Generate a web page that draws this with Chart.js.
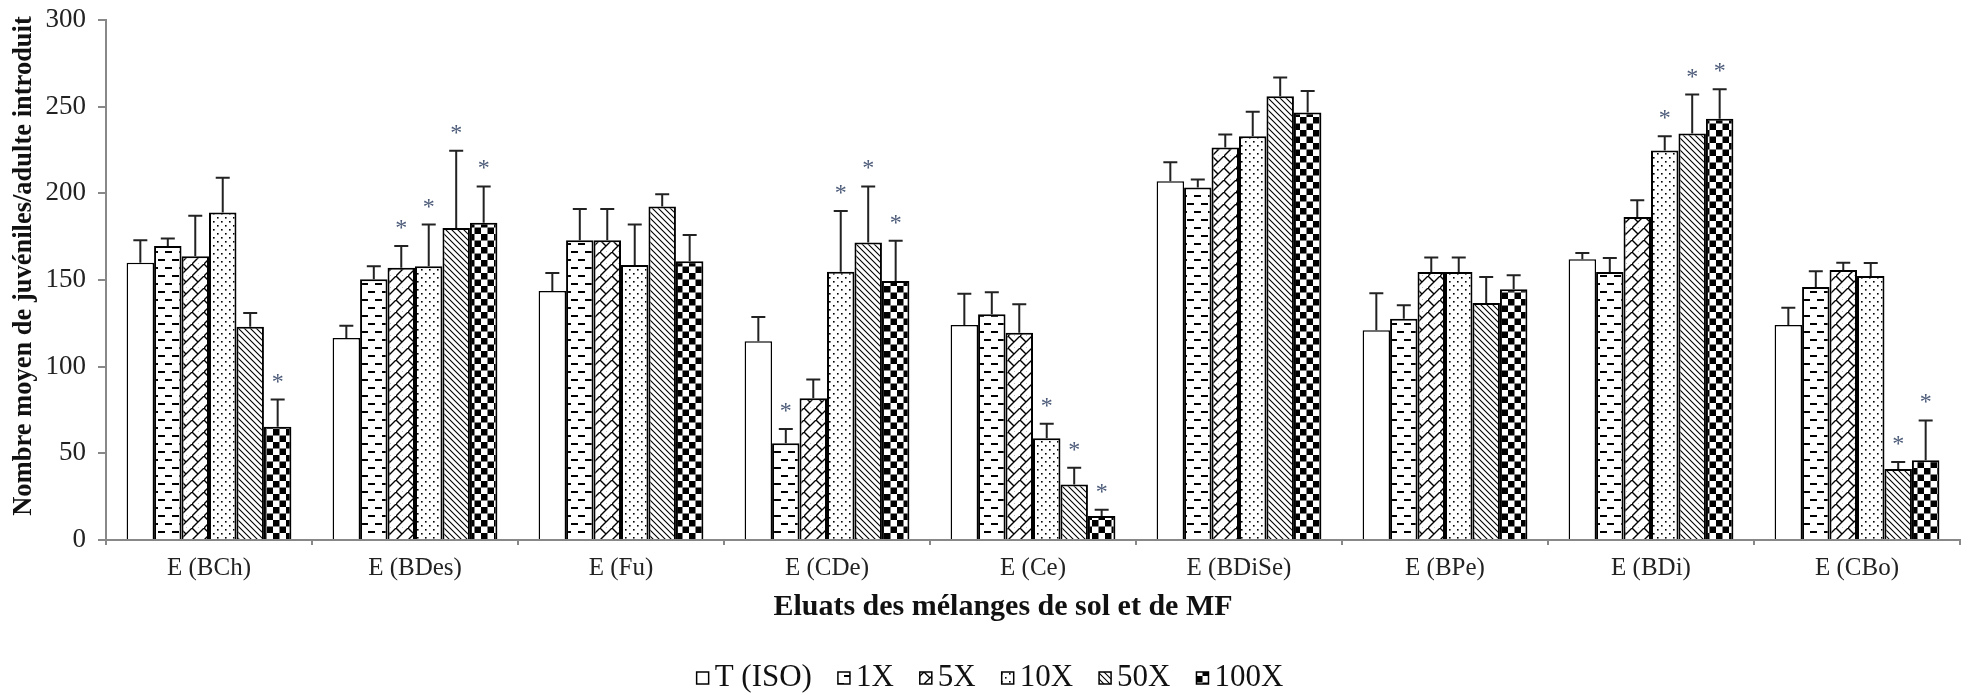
<!DOCTYPE html>
<html>
<head>
<meta charset="utf-8">
<script src="https://cdn.jsdelivr.net/npm/chart.js@4.4.1/dist/chart.umd.min.js"></script>
<style>
  html, body { margin: 0; padding: 0; background: #fff; }
  #wrap { width: 1979px; height: 693px; }
</style>
</head>
<body>
<div id="wrap"><canvas id="chart" width="1979" height="693"></canvas></div>
<script>
const categories = ['E (BCh)', 'E (BDes)', 'E (Fu)', 'E (CDe)', 'E (Ce)', 'E (BDiSe)', 'E (BPe)', 'E (BDi)', 'E (CBo)'];
const seriesLabels = ['T (ISO)', '1X', '5X', '10X', '50X', '100X'];

// mean values
const meanT    = [160, 116.6, 143.6, 114.6, 124, 207, 121, 162, 124];
const mean1X   = [169.6, 150.5, 173, 55.8, 130.3, 203.4, 127.6, 154.6, 146];
const mean5X   = [163.7, 157, 173, 81.8, 119.5, 226.4, 154.6, 186.4, 155.8];
const mean10X  = [189, 158, 158.6, 154.8, 58.7, 233, 154.6, 224.7, 152.3];
const mean50X  = [123, 180, 192.4, 171.6, 32, 256, 136.7, 234.5, 41];
const mean100X = [65.4, 183, 160.8, 149.4, 13.9, 246.7, 144.7, 243, 46];

// standard deviations (upper error bar)
const sdT    = [13, 7, 10.4, 14, 18, 11, 21.4, 3.6, 10];
const sd1X   = [4.4, 7.5, 18, 8.2, 12.7, 4.6, 7.9, 8.1, 9];
const sd5X   = [23.3, 12.6, 18, 10.8, 16.5, 7.6, 8.4, 9.6, 4.2];
const sd10X  = [20, 24, 23.4, 35, 8.3, 14, 8.4, 8.3, 7.5];
const sd50X  = [8, 44.6, 7.1, 32.4, 9.7, 10.8, 15, 22.5, 4];
const sd100X = [15.6, 21, 15.2, 23.2, 3.5, 12.3, 8.1, 17, 23];

// significant difference (*)
const starT    = [0, 0, 0, 0, 0, 0, 0, 0, 0];
const star1X   = [0, 0, 0, 1, 0, 0, 0, 0, 0];
const star5X   = [0, 1, 0, 0, 0, 0, 0, 0, 0];
const star10X  = [0, 1, 0, 1, 1, 0, 0, 1, 0];
const star50X  = [0, 1, 0, 1, 1, 0, 0, 1, 1];
const star100X = [1, 1, 0, 1, 1, 0, 0, 1, 1];

const yTicks = [0, 50, 100, 150, 200, 250, 300];

const yTitle = 'Nombre moyen de juvéniles/adulte introduit';
const xTitle = 'Eluats des mélanges de sol et de MF';

const serif = "'Liberation Serif', 'Times New Roman', serif";

function makePattern(w, h, draw) {
  const c = document.createElement('canvas');
  c.width = w; c.height = h;
  const g = c.getContext('2d');
  g.fillStyle = '#fff';
  g.fillRect(0, 0, w, h);
  g.fillStyle = '#000';
  g.strokeStyle = '#000';
  draw(g);
  return g.createPattern(c, 'repeat');
}

const ctx = document.getElementById('chart').getContext('2d');

const patterns = [
  '#ffffff',
  // dashes
  makePattern(14, 16, g => {
    g.fillRect(4, 3, 7, 2);
    g.fillRect(11, 11, 3, 2);
    g.fillRect(0, 11, 4, 2);
  }),
  // weave
  makePattern(12, 12, g => {
    g.lineWidth = 1.4;
    g.beginPath();
    g.moveTo(-1, 13); g.lineTo(13, -1);
    g.moveTo(0, 0); g.lineTo(6, 6);
    g.moveTo(6, 12); g.lineTo(7, 13);
    g.stroke();
  }),
  // dots
  makePattern(8, 8, g => {
    g.fillRect(1, 1, 1.6, 1.6);
    g.fillRect(5, 5, 1.6, 1.6);
  }),
  // dense back-diagonal
  makePattern(6, 6, g => {
    g.lineWidth = 1.1;
    g.beginPath();
    g.moveTo(-1, -1); g.lineTo(7, 7);
    g.moveTo(5, -1); g.lineTo(7, 1);
    g.moveTo(-1, 5); g.lineTo(1, 7);
    g.stroke();
  }),
  // checkerboard
  makePattern(13, 13, g => {
    g.fillRect(0, 0, 6.5, 6.5);
    g.fillRect(6.5, 6.5, 6.5, 6.5);
  })
];

const means = [meanT, mean1X, mean5X, mean10X, mean50X, mean100X];
const sds = [sdT, sd1X, sd5X, sd10X, sd50X, sd100X];
const stars = [starT, star1X, star5X, star10X, star50X, star100X];

const errorBars = {
  id: 'errorBars',
  afterDatasetsDraw(chart) {
    const c = chart.ctx;
    const y = chart.scales.y;
    c.save();
    chart.data.datasets.forEach((ds, i) => {
      const meta = chart.getDatasetMeta(i);
      meta.data.forEach((bar, j) => {
        const top = y.getPixelForValue(means[i][j] + sds[i][j]);
        c.strokeStyle = '#222';
        c.lineWidth = 2;
        c.beginPath();
        c.moveTo(bar.x, bar.y);
        c.lineTo(bar.x, top);
        c.moveTo(bar.x - 7, top);
        c.lineTo(bar.x + 7, top);
        c.stroke();
        if (stars[i][j]) {
          c.fillStyle = '#4b5a78';
          c.font = '24px ' + serif;
          c.textAlign = 'center';
          c.textBaseline = 'alphabetic';
          c.fillText('*', bar.x, top - 11);
        }
      });
    });
    c.restore();
  }
};

// axis titles and legend placed by hand (the original is not centred on the plot)
const annotations = {
  id: 'annotations',
  afterDraw(chart) {
    const c = chart.ctx;
    c.save();
    c.fillStyle = '#111';
    c.textAlign = 'center';
    c.textBaseline = 'middle';

    c.font = 'bold 26.5px ' + serif;
    c.save();
    c.translate(24, 266);
    c.rotate(-Math.PI / 2);
    c.fillText(yTitle, 0, 0);
    c.restore();

    c.font = 'bold 30px ' + serif;
    c.fillText(xTitle, 1003, 607);

    const box = 12, gap = 6, between = 26;
    c.font = '31px ' + serif;
    const widths = seriesLabels.map(t => c.measureText(t).width);
    const total = widths.reduce((a, b) => a + b, 0) + seriesLabels.length * (box + gap) + (seriesLabels.length - 1) * between;
    let x = 990 - total / 2;
    const yc = 678;
    chart.data.datasets.forEach((ds, i) => {
      c.fillStyle = ds.backgroundColor;
      c.fillRect(x, yc - box / 2, box, box);
      c.strokeStyle = '#000';
      c.lineWidth = 1.5;
      c.strokeRect(x, yc - box / 2, box, box);
      x += box + gap;
      c.fillStyle = '#111';
      c.textAlign = 'left';
      c.fillText(seriesLabels[i], x, yc);
      x += widths[i] + between;
    });
    c.restore();
  }
};

new Chart(ctx, {
  type: 'bar',
  data: {
    labels: categories,
    datasets: seriesLabels.map((label, i) => ({
      label: label,
      data: means[i],
      backgroundColor: patterns[i],
      borderColor: '#000',
      borderWidth: i === 0 ? 1.5 : 2,
      barPercentage: 1,
      categoryPercentage: 0.8
    }))
  },
  options: {
    responsive: false,
    devicePixelRatio: 1,
    animation: false,
    layout: { padding: { top: 20, right: 19, left: 0, bottom: 74 } },
    plugins: {
      tooltip: { enabled: false },
      legend: { display: false }
    },
    scales: {
      y: {
        min: 0,
        max: 300,
        afterFit(scale) {
          scale.width = 106;
          scale.paddingTop = 0;
          scale.paddingBottom = 0;
        },
        afterBuildTicks(scale) { scale.ticks = yTicks.map(v => ({ value: v })); },
        ticks: { font: { family: serif, size: 27 }, color: '#222', padding: 12 },
        grid: { drawOnChartArea: false, tickLength: 8, color: '#888', lineWidth: 2 },
        border: { color: '#888', width: 2 }
      },
      x: {
        afterFit(scale) { scale.height = 79; },
        ticks: { font: { family: serif, size: 25 }, color: '#222', padding: 8 },
        grid: { drawOnChartArea: false, offset: true, tickLength: 5, color: '#888', lineWidth: 2 },
        border: { color: '#888', width: 2 }
      }
    }
  },
  plugins: [errorBars, annotations]
});
</script>
</body>
</html>
